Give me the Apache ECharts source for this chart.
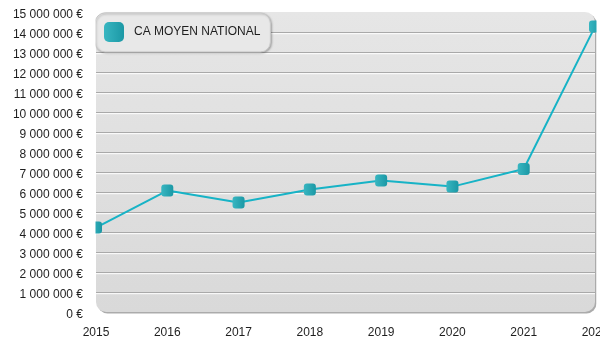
<!DOCTYPE html>
<html>
<head>
<meta charset="utf-8">
<script src="https://cdn.jsdelivr.net/npm/echarts@6/dist/echarts.min.js"></script>
<style>
  html, body { margin: 0; padding: 0; background: #fff; }
  #chart { width: 600px; height: 350px; }
</style>
</head>
<body>
<div id="chart"></div>
<script>
// Annual average national turnover
const years = ['2015', '2016', '2017', '2018', '2019', '2020', '2021', '2022'];
const caMoyenNational = [4220000, 6070000, 5470000, 6120000, 6570000, 6270000, 7150000, 14270000];
const seriesName = 'CA MOYEN NATIONAL';

const W = 600, H = 350;
const GRID = { left: 96, right: 5, top: 12, bottom: 38 };
const plotW = W - GRID.left - GRID.right;
const plotH = H - GRID.top - GRID.bottom;
const FONT = '"Liberation Sans", Arial, Helvetica, sans-serif';

const markerFill = new echarts.graphic.LinearGradient(0, 0, 1, 0, [
  { offset: 0, color: '#38b6c1' },
  { offset: 1, color: '#1b98a5' }
]);

function euro(v) {
  return '{v|' + String(Math.round(v)).replace(/\B(?=(\d{3})+(?!\d))/g, ' ') + ' €}';
}

const chart = echarts.init(document.getElementById('chart'), null, { renderer: 'canvas' });

chart.setOption({
  animation: false,
  backgroundColor: '#ffffff',
  textStyle: { fontFamily: FONT },
  grid: {
    left: GRID.left, right: GRID.right, top: GRID.top, bottom: GRID.bottom,
    containLabel: false,
    outerBoundsMode: 'none'
  },
  graphic: [
    {
      // rounded panel behind the plot
      type: 'rect',
      z: -100,
      left: GRID.left,
      top: GRID.top,
      shape: { width: plotW, height: plotH, r: 10 },
      style: {
        fill: new echarts.graphic.LinearGradient(0, 0, 0, 1, [
          { offset: 0, color: '#e6e6e6' },
          { offset: 1, color: '#d9d9d9' }
        ]),
        shadowColor: 'rgba(0,0,0,0.33)',
        shadowOffsetX: 1.5,
        shadowOffsetY: 1.5,
        shadowBlur: 0
      }
    },
    {
      // keep end markers inside the panel on the left
      type: 'rect',
      z: 100,
      left: GRID.left - 12,
      top: 0,
      shape: { width: 11.5, height: GRID.top + plotH - 2 },
      style: { fill: '#ffffff' }
    },
    {
      // keep end markers inside the panel on the right
      type: 'rect',
      z: 100,
      left: GRID.left + plotW + 1.5,
      top: 0,
      shape: { width: 10, height: GRID.top + plotH - 2 },
      style: { fill: '#ffffff' }
    }
  ],
  legend: {
    data: [{ name: seriesName, icon: 'roundRect' }],
    left: GRID.left - 1,
    top: GRID.top + 1,
    orient: 'horizontal',
    itemWidth: 20,
    itemHeight: 20,
    itemGap: 10,
    padding: [9, 10, 10, 9],
    backgroundColor: '#e8e8e8',
    borderColor: '#c8c8c8',
    borderWidth: 1,
    borderRadius: 10,
    shadowColor: 'rgba(0,0,0,0.25)',
    shadowBlur: 2,
    shadowOffsetX: 1,
    shadowOffsetY: 1,
    textStyle: { fontFamily: FONT, fontSize: 12, color: '#1e1e1e', padding: [0, 0, 0, 5] },
    itemStyle: { color: markerFill, borderWidth: 0 }
  },
  xAxis: {
    type: 'category',
    data: years,
    boundaryGap: false,
    axisLine: { show: false },
    axisTick: { show: false },
    splitLine: { show: false },
    axisLabel: { fontFamily: FONT, fontSize: 12, color: '#1e1e1e', margin: 15 }
  },
  yAxis: {
    type: 'value',
    min: 0,
    max: 15000000,
    interval: 1000000,
    axisLine: { show: false },
    axisTick: { show: false },
    axisLabel: {
      fontFamily: FONT, fontSize: 12, color: '#1e1e1e', margin: 13,
      formatter: euro,
      rich: {
        v: { fontFamily: FONT, fontSize: 12, color: '#1e1e1e', padding: [6, 0, 0, 0] }
      }
    },
    splitLine: {
      show: true,
      showMinLine: false,
      showMaxLine: false,
      lineStyle: {
        color: '#a9a9a9',
        width: 1,
        shadowColor: '#ffffff',
        shadowOffsetY: 1.2,
        shadowBlur: 0
      }
    }
  },
  series: [{
    name: seriesName,
    type: 'line',
    data: caMoyenNational,
    symbol: 'roundRect',
    symbolSize: 12,
    showAllSymbol: true,
    lineStyle: { color: '#17b3c6', width: 2 },
    itemStyle: { color: markerFill, borderWidth: 0 },
    z: 5
  }]
});
</script>
</body>
</html>
